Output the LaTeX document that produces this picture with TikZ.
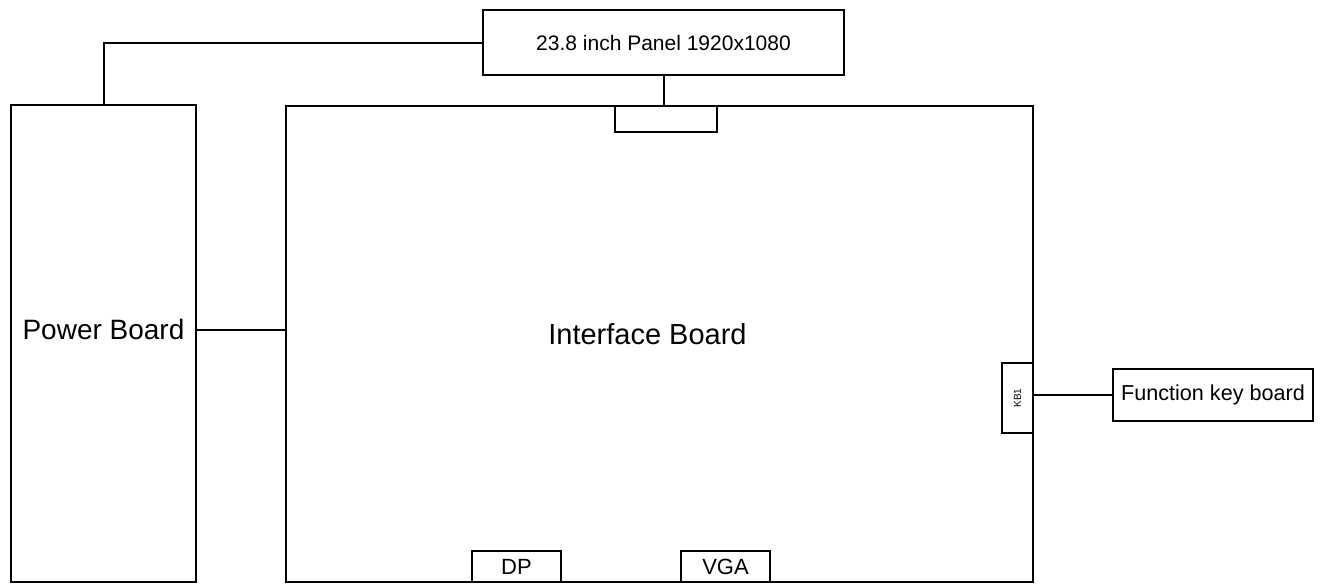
\documentclass[tikz,border=0pt]{standalone}
\usepackage{fontspec}
\setmainfont{Liberation Sans}
\usetikzlibrary{positioning,calc}

\begin{document}
\begin{tikzpicture}[x=0.5pt, y=-0.5pt, line width=1pt,
    board/.style={draw, inner sep=0pt, outer sep=0pt},
    port/.style={draw, inner sep=0pt, outer sep=0pt, font=\fontsize{11}{13}\selectfont}]
    \useasboundingbox (0,0) rectangle (1323,585);
    % boards
    \node[board, minimum width=92.5pt, minimum height=238.5pt,
        label={[yshift=7pt, font=\fontsize{14}{16}\selectfont]center:Power Board}] (power) at (103.5,343.5) {};
    \node[board, minimum width=373.5pt, minimum height=238pt,
        label={[xshift=-6pt, yshift=5pt, font=\fontsize{14.5}{17}\selectfont]center:Interface Board}] (iface) at (659.5,344) {};
    \node[board, minimum width=180.5pt, minimum height=32.5pt, font=\fontsize{10.5}{12}\selectfont] (panel) at (663.5,42.5) {23.8 inch Panel 1920x1080};
    \node[board, minimum width=100pt, minimum height=26pt, font=\fontsize{10.8}{12}\selectfont] (fkb) at (1213,395) {Function key board};
    % connectors on the interface board
    \node[port, minimum width=51pt, minimum height=13pt] (lvds) at (666,119) {};
    \node[port, minimum width=15.5pt, minimum height=35pt] (kb) at (1017.5,398) {\rotatebox{90}{\fontsize{5}{6}\selectfont KB1}};
    \node[port, minimum width=44.5pt, minimum height=15.5pt] (dp) at (516.5,566.5) {DP};
    \node[port, minimum width=44.5pt, minimum height=15.5pt] (vga) at (725.5,566.5) {VGA};
    % wires
    \draw (power.north) |- (panel.west);
    \draw (panel.south) -- (panel.south |- lvds.north);
    \draw ([yshift=7pt]power.east) -- ([yshift=7pt]power.east -| iface.west);
    \draw (fkb.west) -- (fkb.west -| kb.east);
\end{tikzpicture}
\end{document}
